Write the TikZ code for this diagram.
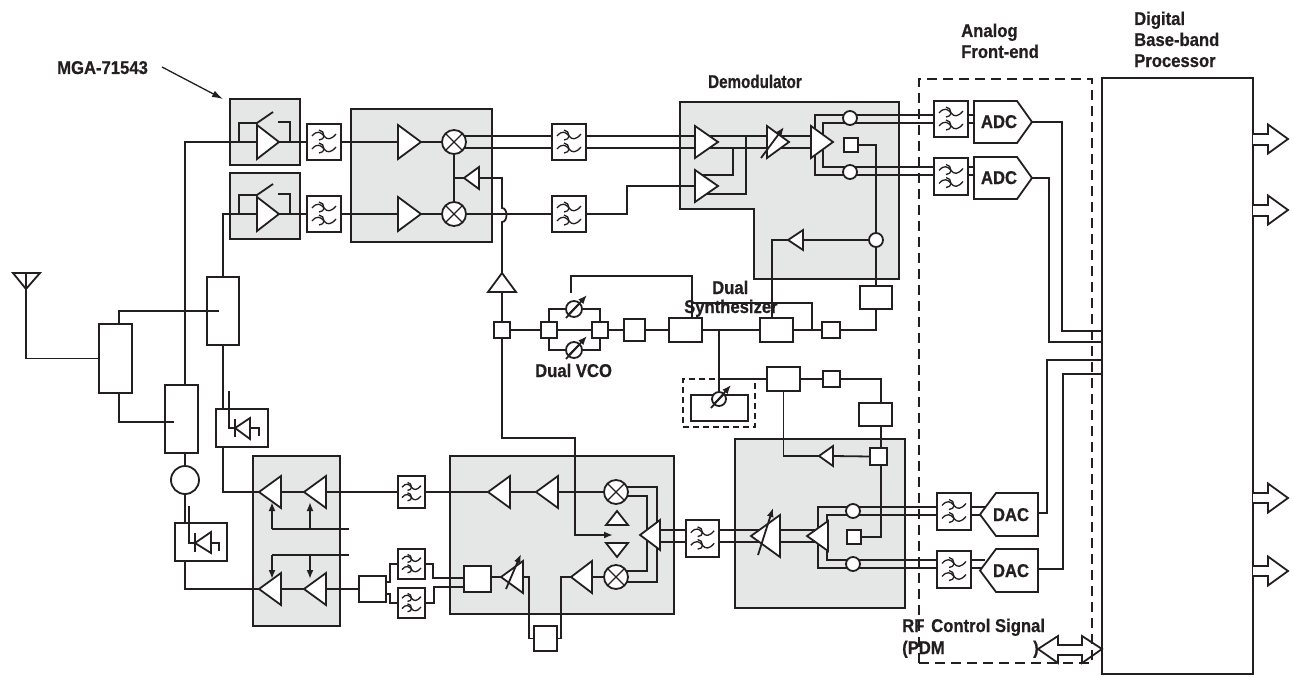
\documentclass[tikz,border=0pt]{standalone}
\usepackage{fontspec}
\setmainfont[FakeStretch=0.9,BoldFeatures={FakeBold=0.6}]{Liberation Sans}
\newfontfamily\narrowf[FakeStretch=0.82,BoldFeatures={FakeBold=0.6}]{Liberation Sans}
\usetikzlibrary{arrows.meta}
\definecolor{ink}{HTML}{231F20}
\definecolor{gbox}{HTML}{E5E7E6}
\pgfdeclarelayer{bg}\pgfdeclarelayer{wires}
\pgfsetlayers{bg,wires,main}
\tikzset{
  wire/.style={draw=ink,line width=1.8pt},
  comp/.style={draw=ink,fill=white,line width=1.8pt,line join=miter},
  rbox/.style={rectangle,draw=ink,fill=white,line width=1.8pt,inner sep=0pt,outer sep=0pt},
  gray box/.style={rectangle,draw=ink,fill=gbox,line width=1.8pt,inner sep=0pt,outer sep=0pt},
  dash box/.style={rectangle,draw=ink,line width=1.8pt,dash pattern=on 6pt off 4pt,inner sep=0pt,outer sep=0pt},
  rnd/.style={circle,draw=ink,fill=white,line width=1.8pt,inner sep=0pt,outer sep=0pt},
  lbl/.style={text=ink,font=\fontsize{18.5}{22}\selectfont\bfseries,inner sep=0pt,anchor=base west},
  lblc/.style={text=ink,font=\fontsize{18.5}{22}\selectfont\bfseries,inner sep=0pt,anchor=base},
  tip/.style={-{Latex[length=9pt,width=7pt]}},
  fsym/.style={draw=ink,line width=1.3pt},
}
\newcommand{\RBox}[6][rbox]{\node[#1,minimum width={(#5-#3)*1pt},minimum height={(#6-#4)*1pt}] (#2) at ({(#3+#5)/2},{(#4+#6)/2}) {};}
\newcommand{\Filt}[5]{\RBox{#1}{#2}{#3}{#4}{#5}
  \begin{scope}[shift={(#1.center)},scale={(#4-#2)/34}]
    \draw[fsym] (-12,-6) .. controls (-7,-12) and (-3,-10) .. (0,-6) .. controls (3,-2) and (7,-2) .. (12,-8);
    \draw[fsym] (-5,-12) .. controls (-2,-12) and (0,-9) .. (0,-6) .. controls (0,-4) and (-2,-2) .. (-5,-2);
    \draw[fsym] (-12,7) .. controls (-7,1) and (-3,3) .. (0,7) .. controls (3,11) and (7,11) .. (12,5);
    \draw[fsym] (-5,1) .. controls (-2,1) and (0,4) .. (0,7) .. controls (0,9) and (-2,11) .. (-5,11);
  \end{scope}}
\newcommand{\Tri}[5]{\coordinate (#1) at (#2,#3);\coordinate (#1b) at (#4,#3);
  \draw[comp] (#1) -- ({#4},{#3-#5}) -- ({#4},{#3+#5}) -- cycle;}
\newcommand{\Mix}[3]{\node[rnd,minimum size=24pt] (#1) at (#2,#3) {};
  \draw[wire,line width=1.3pt] (#1.45)--(#1.225) (#1.135)--(#1.315);}
\newcommand{\Hollow}[3]{% y1 y2 shaft, apex y
  \draw[comp] (1253,#1) -- (1268,#1) -- (1268,{#3-14.5}) -- (1288,#3) -- (1268,{#3+14.5}) -- (1268,#2) -- (1253,#2);}
\begin{document}
\begin{tikzpicture}[x=1pt,y=-1pt]
\useasboundingbox (0,0) rectangle (1293,677);
% ---- grey blocks
\begin{pgfonlayer}{bg}
\RBox[gray box]{glnaA}{230}{99}{300}{165}
\RBox[gray box]{glnaB}{230}{173}{300}{239}
\RBox[gray box]{gmix}{351}{109}{492}{242}
\RBox[gray box]{gpa}{253}{456}{340}{626}
\RBox[gray box]{gmod}{450}{456}{674}{614}
\RBox[gray box]{gtx}{735}{439}{905}{608}
\draw[draw=ink,fill=gbox,line width=1.8pt] (680,102) -- (899,102) -- (899,279) -- (754,279) -- (754,209) -- (680,209) -- cycle;
\end{pgfonlayer}
% ---- components
\Filt{fA}{307}{124}{341}{160}
\Filt{fB}{307}{196}{341}{232}
\Filt{fC}{552}{124}{586}{160}
\Filt{fD}{552}{196}{586}{232}
\Filt{fE}{398}{476}{425}{508}
\Filt{fF}{398}{549}{425}{579}
\Filt{fG}{398}{588}{425}{618}
\Filt{fH}{686}{520}{719}{557}
\Filt{fI}{934}{101}{968}{137}
\Filt{fJ}{934}{158}{968}{195}
\Filt{fK}{937}{493}{971}{530}
\Filt{fL}{937}{551}{971}{588}
\Tri{aA}{279}{142}{257}{17}
\Tri{aB}{279}{214}{257}{17}
\Tri{aC}{421}{142}{398}{17}
\Tri{aD}{421}{214}{398}{17}
\Tri{tLO}{464}{178}{479}{11}
\Mix{mxA}{454}{142}
\Mix{mxB}{454}{214}
\coordinate (tUp) at (502,273);\coordinate (tUpb) at (502,292);
\draw[comp] (tUp) -- (516,292) -- (488,292) -- cycle;
\RBox{sqV}{494}{322}{510}{338}
\RBox{sqL}{541}{322}{557}{338}
\RBox{sqR}{592}{322}{608}{338}
\RBox{sqN}{624}{319}{645}{341}
\RBox{synA}{669}{318}{702}{342}
\RBox{synB}{760}{318}{793}{342}
\RBox{sqM}{822}{322}{840}{338}
\RBox{synC}{860}{286}{892}{309}
\node[rnd,minimum size=16pt] (vcoA) at (574,309) {};
\node[rnd,minimum size=16pt] (vcoB) at (574,350) {};
% demodulator
\Tri{dA}{718}{142}{695}{16}
\Tri{dB}{718}{186}{695}{16}
\Tri{dV}{789}{142}{767}{16}
\Tri{dC}{833}{142}{811}{16}
\Tri{dL}{788}{240}{803}{10}
\node[rnd,minimum size=14pt] (cU) at (850,118) {};
\node[rnd,minimum size=14pt] (cL) at (850,172) {};
\node[rnd,minimum size=14pt] (cR) at (876,240) {};
\RBox{sqD}{844}{138}{858}{152}
% AFE
\newcommand{\Adc}[3]{\draw[comp] (974,#2) -- (1017,#2) -- (1032,{#2+21}) -- (1017,{#2+42}) -- (974,{#2+42}) -- cycle;
  \coordinate (#1) at (1032,{#2+21});
  \node[lblc] (#1t) at (999,{#2+27}) {#3};}
\newcommand{\Dac}[3]{\draw[comp] (1038,#2) -- (996,#2) -- (980,{#2+21.5}) -- (996,{#2+43}) -- (1038,{#2+43}) -- cycle;
  \coordinate (#1) at (1038,{#2+20});
  \node[lblc] (#1t) at (1011,{#2+28}) {#3};}
\Adc{adcA}{101}{ADC}
\Adc{adcB}{157}{ADC}
\Dac{dacA}{493}{DAC}
\Dac{dacB}{549}{DAC}
\RBox{bb}{1102}{78}{1253}{674}
% left side
\RBox{spA}{207}{277}{239}{345}
\RBox{spB}{99}{324}{132}{393}
\RBox{spC}{165}{385}{198}{453}
\RBox{detA}{216}{409}{268}{447}
\RBox{detB}{175}{523}{227}{561}
\node[rnd,minimum size=28pt] (cir) at (185,480) {};
% PA
\Tri{pA}{259}{492}{281}{16}
\Tri{pB}{304}{492}{326}{16}
\Tri{pC}{259}{589}{281}{16}
\Tri{pD}{304}{589}{326}{16}
\RBox{bxP}{359}{576}{386}{602}
% modulator
\Tri{mA}{488}{492}{510}{16}
\Tri{mB}{536}{492}{558}{16}
\Mix{mxU}{616}{492}
\Mix{mxL}{616}{577}
\Tri{mC}{571}{577}{592}{16}
\Tri{mV}{501}{577}{523}{16}
\RBox{bxM}{464}{566}{491}{592}
\RBox{bxO}{534}{626}{557}{651}
\Tri{mT}{640}{535}{660}{15}
\draw[comp] (606,525) -- (628,525) -- (617,511) -- cycle;
\draw[comp] (606,543) -- (628,543) -- (617,557) -- cycle;
% tx side
\Tri{tV}{751}{536}{780}{21}
\Tri{tT}{807}{536}{828}{15}
\Tri{tG}{819}{456}{833}{10}
\RBox{sqG}{870}{448}{887}{465}
\RBox{sqX}{847}{530}{861}{544}
\node[rnd,minimum size=14pt] (cTU) at (853,511) {};
\node[rnd,minimum size=14pt] (cTL) at (853,564) {};
\RBox{synD}{767}{367}{800}{391}
\RBox{sqE}{823}{371}{840}{387}
\RBox{synE}{859}{403}{892}{426}
\RBox{vcoIn}{691}{395}{748}{421}
\node[rnd,minimum size=14pt] (vcoC) at (719,399) {};
% named free ends
\coordinate (ant) at (26,273);
\coordinate (bbA) at (1102,331);\coordinate (bbB) at (1102,342);
\coordinate (bbC) at (1102,360);\coordinate (bbD) at (1102,374);
\coordinate (modTip) at (613,535);
\coordinate (synT) at (692,318);
\coordinate (vcoT) at (571,293);
\coordinate (synB2) at (812,330);
\coordinate (synC2) at (692,303);
\coordinate (brV) at (719,330);
\coordinate (tapA) at (746,136);\coordinate (tapB) at (733,148);
\coordinate (dBlo) at (700,194);\coordinate (dBup) at (700,175);
\coordinate (rT) at (881,403);\coordinate (rB) at (881,426);
% ---- wires (below the components)
\begin{pgfonlayer}{wires}
\path[wire] (aAb) -| (spC.north -| cir.north);
\path[wire] (spC.south -| cir.north) -- (cir.north);
\path[wire] (cir.south) -- (detB.north -| cir.south);
\path[wire] (detB.south -| cir.south) |- (pC);
\path[wire] (aBb) -| (spA.north);
\path[wire] (spA.south) -- (detA.north -| spA.south);
\path[wire] (detA.south -| spA.south) |- (pA);
\path[wire] (ant) |- (spB.west);
\path[wire] (aA) -- (fA.west) (fA.east) -- (aCb) (aC) -- (mxA.west);
\path[wire] (aB) -- (fB.west) (fB.east) -- (aDb) (aD) -- (mxB.west);
\path[wire] (mxA.south) -- (mxB.north);
\path[wire] (tLO) -- (mxA.south |- tLO);
\path[wire] (mxB.east) -- (fD.west);
\path[wire] ([yshift=6pt]mxA.center) -- ([yshift=6pt]fC.west) ([yshift=-6pt]mxA.center) -- ([yshift=-6pt]fC.west);
\path[wire] ([yshift=6pt]fC.east) -- ([yshift=6pt]dCb) ([yshift=-6pt]fC.east) -- ([yshift=-6pt]dCb);
\path[wire] (fD.east) -| (627,200) |- (dBb);
\path[wire] (tapA) |- (dBlo);
\path[wire] (tapB) |- (dBup);
\path[wire] ([yshift=4pt]fI.west) -| (815,150) |- ([yshift=1.5pt]fJ.west);
\path[wire] ([yshift=-4pt]fI.west) -| (823,150) |- ([yshift=9.5pt]fJ.west);
\path[wire] ([yshift=4pt]fI.east) -- (980,115) ([yshift=-4pt]fI.east) -- (980,123);
\path[wire] ([yshift=9.5pt]fJ.east) -- (980,167) ([yshift=1.5pt]fJ.east) -- (980,175);
\path[wire] (sqD.east) -| (cR.north);
\path[wire] (cR.south) -- (synC.north);
\path[wire] (cR.west) -- (dLb);
\path[wire] (dL) -| (772,318);
\path[wire] (synC.south) |- (sqM.east);
\path[wire] (sqM.west) -- (synB.east) (synB.west) -- (synA.east) (synA.west) -- (sqN.east) (sqN.west) -- (sqR.east) (sqL.east) -- (sqR.west) (sqL.west) -- (sqV.east);
\path[wire] (sqL.north) |- (vcoA.west) (vcoA.east) -| (sqR.north);
\path[wire] (sqL.south) |- (vcoB.west) (vcoB.east) -| (sqR.south);
\path[wire] (synT) |- (571,276) -- (vcoT);
\path[wire] (synB2) |- (synC2) -- (synT);
% LO chain with a hop over the mixer output
\path[wire] (tLOb) -| (502,208) .. controls (508,208) and (508,222) .. (502,222) -- (tUp);
\path[wire] (tUpb) -- (sqV.north);
\path[wire,tip] (sqV.south) |- (575,438) |- (modTip);
% LO to Tx
\path[wire] (brV) -- (vcoC.north);
\path[wire] (brV |- synD.west) -- (synD.west) (synD.east) -- (sqE.west);
\path[wire] (sqE.east) -| (rT);
\path[wire] (rB) -- (sqG.north -| rB);
\path[wire] (sqG.south -| rB) |- (sqX.east);
\path[wire] (sqG.west) -- (tGb);
\path[wire] (tG) -| (synD.south);
% PA chain
\path[wire] (pB) -- (pAb) (pBb) -- (fE.west) (fE.east) -- (mA) (mAb) -- (mB) (mBb) -- (mxU.west);
\path[wire] (pD) -- (pCb) (pDb) -- (bxP.west);
\path[wire] ([yshift=7pt]bxP.east) -| (390,573) |- (fF.west);
\path[wire] ([yshift=-5pt]bxP.east) -| (390,595) |- (fG.west);
\path[wire] (fF.east) -| (433,571) |- ([yshift=1pt]bxM.west);
\path[wire] (fG.east) -| (434,595) |- ([yshift=-8pt]bxM.west);
\path[wire] (bxM.east |- mV) -- (mV);
\path[wire] (mVb) -| (529,610) |- (bxO.west);
\path[wire] (bxO.east) -| (561,610) |- (mC);
\path[wire] (mCb) -- (mxL.west);
\path[wire] ([yshift=5pt]mxU.center) -| (657,540) |- ([yshift=-5pt]mxL.center);
\path[wire] ([yshift=-4pt]mxU.center) -| (647,540) |- ([yshift=6pt]mxL.center);
\path[wire] ([yshift=5pt]mTb) -- ([yshift=8.5pt]fH.west) ([yshift=-7pt]mTb) -- ([yshift=-3.5pt]fH.west);
\path[wire] ([yshift=8.5pt]fH.east) -- ([yshift=6pt]tVb) ([yshift=-3.5pt]fH.east) -- ([yshift=-6pt]tVb);
\path[wire] ([yshift=6pt]tVb) -- ([yshift=6pt]tTb) ([yshift=-6pt]tVb) -- ([yshift=-6pt]tTb);
\path[wire] ([yshift=4.5pt]fK.west) -| (818,540) |- ([yshift=1.5pt]fL.west);
\path[wire] ([yshift=-3.5pt]fK.west) -| (827,540) |- ([yshift=9.5pt]fL.west);
\path[wire] ([yshift=4.5pt]fK.east) -- (985,507) ([yshift=-3.5pt]fK.east) -- (985,515);
\path[wire] ([yshift=9.5pt]fL.east) -- (985,560) ([yshift=1.5pt]fL.east) -- (985,568);
% to the baseband processor
\path[wire] (adcA) -| (1062,250) |- (bbA);
\path[wire] (adcB) -| (1049,250) |- (bbB);
\path[wire] (dacA) -| (1047,450) |- (bbC);
\path[wire] (dacB) -| (1063,450) |- (bbD);
\end{pgfonlayer}
% ---- marks drawn over the components
\path[wire] (ant) +(-13,0) -- +(14,0) -- (26,289) -- cycle (ant) -- (26,289);
% splitter stubs
\path[wire] (219,311) -| (119,324) (119,393) |- (174,422);
% switches
\path[wire] (239,142) |- (257,123) -- (273,112) (278,122) -| (290,142);
\path[wire] (239,214) |- (257,195) -- (273,184) (278,194) -| (290,214);
% detectors
\path[wire] (229,391) |- (235,428);
\path[wire] (235,419) -- (235,437);
\draw[comp,fill=none] (235,428) -- (250,418) -- (250,439) -- cycle;
\path[wire] (250,428) -| (259,436);
\path[wire] (189,506) |- (195,543);
\path[wire] (195,533) -- (195,552);
\draw[comp,fill=none] (195,543) -- (211,532) -- (211,553) -- cycle;
\path[wire] (211,543) -| (219,551);
% tuning arrows
\path[wire,tip] (566,318) -- (587,295);
\path[wire,tip] (566,359) -- (587,336);
\path[wire,tip] (711,408) -- (731,385);
\path[wire,tip] (761,158) -- (784,127);
\path[wire,tip] (506,589) -- (521,554);
\path[wire,tip] (758,555) -- (773,508);
% vco circle slashes
\path[wire] (vcoA.225) -- (vcoA.45) (vcoB.225) -- (vcoB.45) (vcoC.225) -- (vcoC.45);
% PA bias
\path[wire] (349,529) -- (272,529);
\path[wire,tip] (272,529) -- (272,502);
\path[wire,tip] (310,529) -- (310,502);
\path[wire] (349,555) -- (272,555);
\path[wire,tip] (272,555) -- (272,579);
\path[wire,tip] (310,555) -- (310,579);
% digital outputs
\Hollow{134}{145}{139}
\Hollow{205}{216}{210}
\Hollow{493}{503}{498}
\Hollow{566}{576}{571}
\draw[comp] (1038,649) -- (1058,636) -- (1058,645) -- (1082,645) -- (1082,636) -- (1102,649) -- (1082,663) -- (1082,655) -- (1058,655) -- (1058,663) -- cycle;
% dashed frames
\RBox[dash box,dash pattern=on 10pt off 6pt]{afe}{919}{79}{1092}{663}
\RBox[dash box]{vcoBox}{683}{379}{755}{427}
% labels
\node[lbl] (mga) at (57,74) {MGA-71543};
\coordinate (annS) at (162,67);\coordinate (annE) at (223,99);
\path[wire,line width=1.3pt,-{Latex[length=11pt,width=7pt]}] (annS) -- (annE);
\node[lbl] (tDemod) at (708,88) {\narrowf Demodulator};
\node[lbl] (tAn) at (961,37) {Analog};
\node[lbl] (tFe) at (961,58) {Front-end};
\node[lbl] (tDi) at (1134,25) {Digital};
\node[lbl] (tBa) at (1134,46) {Base-band};
\node[lbl] (tPr) at (1134,67) {Processor};
\node[lbl] (tDu) at (712,294) {Dual};
\node[lbl] (tSy) at (684,313) {Synthesizer};
\node[lbl] (tVc) at (535,377) {Dual VCO};
\node[lbl] (tRf) at (902,632) {RF};
\node[lbl] (tCo) at (931,632) {Control Signal};
\node[lbl] (tPd) at (902,654) {(PDM};
\node[lbl] (tPc) at (1033,654) {)};
\end{tikzpicture}
\end{document}
